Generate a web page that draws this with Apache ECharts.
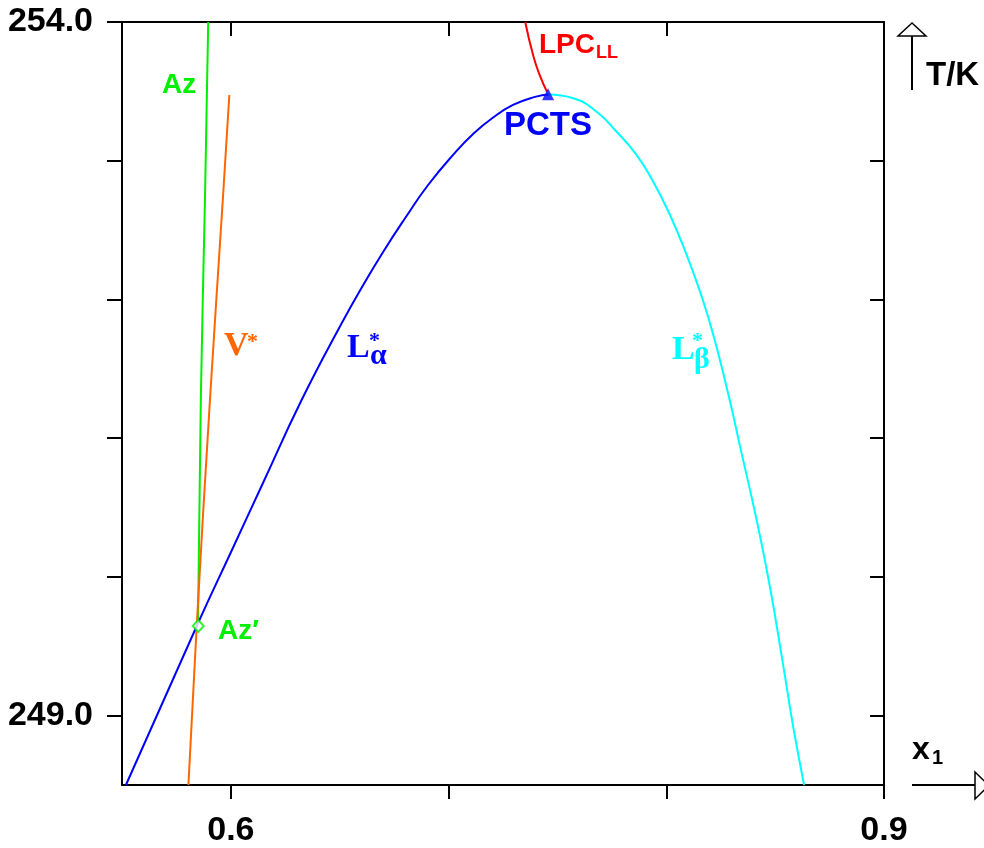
<!DOCTYPE html>
<html>
<head>
<meta charset="utf-8">
<script src="https://cdn.jsdelivr.net/npm/echarts@6/dist/echarts.min.js"></script>
<style>
html,body{margin:0;padding:0;background:#fff;}
#chart{width:984px;height:848px;}
</style>
</head>
<body>
<div id="chart"></div>
<script>
// ---- data (x1, T/K) ----
const xTickValues = [0.6, 0.7, 0.8, 0.9];
const xLabelValues = [0.6, 0.9];
const yTickValues = [249, 250, 251, 252, 253, 254];
const yLabelValues = [249, 254];

const lAlphaX = [0.5518, 0.5849, 0.6005, 0.6147, 0.6325, 0.6509, 0.6608, 0.6700, 0.6800, 0.6906, 0.7034, 0.7108, 0.7200, 0.7296, 0.7402, 0.7457];
const lAlphaT = [248.500, 249.666, 250.194, 250.675, 251.275, 251.828, 252.104, 252.344, 252.585, 252.825, 253.065, 253.186, 253.306, 253.402, 253.462, 253.477];

const lBetaX = [0.7457, 0.7573, 0.7680, 0.7772, 0.7864, 0.7940, 0.8017, 0.8094, 0.8155, 0.8216, 0.8293, 0.8339, 0.8415, 0.8476, 0.8538, 0.8583, 0.8633];
const lBetaT = [253.477, 253.450, 253.353, 253.209, 253.041, 252.849, 252.609, 252.320, 252.056, 251.744, 251.263, 250.939, 250.410, 249.929, 249.353, 248.920, 248.500];

const lpcX = [0.7352, 0.7390, 0.7421, 0.7452];
const lpcT = [254.000, 253.752, 253.608, 253.497];

const azX = [0.5896, 0.5881, 0.5862, 0.5849];
const azT = [254.000, 252.717, 251.275, 249.666];

const vX = [0.5993, 0.5963, 0.5904, 0.5843, 0.5805];
const vT = [253.474, 252.717, 251.275, 249.641, 248.500];

const pctsPoint = [0.7457, 253.48];
const azPrimePoint = [0.5850, 249.646];

function zip(xs, ys) { return xs.map((x, i) => [x, ys[i]]); }

const SANS = '"Liberation Sans", Arial, Helvetica, sans-serif';
const SERIF = '"Liberation Serif", "Times New Roman", serif';
const GREEN = '#00f000';

function lineSeries(xs, ys, color) {
  return {
    type: 'line', data: zip(xs, ys), showSymbol: false, smooth: 0.5,
    lineStyle: { color: color, width: 2 }, silent: true, z: 3
  };
}

function txt(text, x, y, color, font, align) {
  return {
    type: 'text', x: x, y: y, z: 100,
    style: { text: text, fill: color, font: font, textAlign: align || 'left', textVerticalAlign: 'middle' }
  };
}

const axisLineStyle = { color: '#000', width: 2 };

const option = {
  backgroundColor: '#fff',
  animation: false,
  grid: { left: 122, right: 100, top: 22, bottom: 63, containLabel: false, outerBoundsMode: 'none' },
  xAxis: [
    {
      type: 'value', position: 'bottom', min: 0.55, max: 0.9,
      axisLine: { show: true, onZero: false, lineStyle: axisLineStyle },
      axisTick: { show: true, inside: false, length: 14, customValues: xTickValues, lineStyle: axisLineStyle },
      axisLabel: { show: true, customValues: xLabelValues, formatter: v => Number(v).toFixed(1),
        color: '#000', fontSize: 34, fontWeight: 'bold', fontFamily: SANS, margin: 29 },
      splitLine: { show: false }
    },
    {
      type: 'value', position: 'top', min: 0.55, max: 0.9,
      axisLine: { show: true, onZero: false, lineStyle: axisLineStyle },
      axisTick: { show: true, inside: true, length: 14, customValues: [0.6, 0.7, 0.8], lineStyle: axisLineStyle },
      axisLabel: { show: false },
      splitLine: { show: false }
    }
  ],
  yAxis: [
    {
      type: 'value', position: 'left', min: 248.5, max: 254,
      axisLine: { show: true, onZero: false, lineStyle: axisLineStyle },
      axisTick: { show: true, inside: false, length: 15, customValues: yTickValues, lineStyle: axisLineStyle },
      axisLabel: { show: true, customValues: yLabelValues, formatter: v => Number(v).toFixed(1),
        color: '#000', fontSize: 34, fontWeight: 'bold', fontFamily: SANS, margin: 29 },
      splitLine: { show: false }
    },
    {
      type: 'value', position: 'right', min: 248.5, max: 254,
      axisLine: { show: true, onZero: false, lineStyle: axisLineStyle },
      axisTick: { show: true, inside: true, length: 14, customValues: yTickValues, lineStyle: axisLineStyle },
      axisLabel: { show: false },
      splitLine: { show: false }
    }
  ],
  series: [
    lineSeries(azX, azT, GREEN),
    lineSeries(vX, vT, '#ff6600'),
    lineSeries(lAlphaX, lAlphaT, '#0000ff'),
    lineSeries(lBetaX, lBetaT, '#00ffff'),
    lineSeries(lpcX, lpcT, '#ff0000'),
    {
      type: 'scatter', data: [pctsPoint], symbol: 'triangle', symbolSize: [12, 12],
      itemStyle: { color: '#0000ff' }, silent: true, z: 5
    },
    {
      type: 'scatter', data: [azPrimePoint], symbol: 'diamond', symbolSize: [11, 12],
      itemStyle: { color: '#ffffff', borderColor: GREEN, borderWidth: 2 }, silent: true, z: 5
    }
  ],
  graphic: [
    // axis arrows
    { type: 'polyline', z: 100, shape: { points: [[912, 90], [912, 36]] }, style: { stroke: '#000', lineWidth: 2, fill: null } },
    { type: 'polygon', z: 100, shape: { points: [[912, 23], [898, 36], [926, 36]] }, style: { stroke: '#000', lineWidth: 1.5, fill: '#fff' } },
    { type: 'polyline', z: 100, shape: { points: [[912, 785], [975, 785]] }, style: { stroke: '#000', lineWidth: 2, fill: null } },
    { type: 'polygon', z: 100, shape: { points: [[975, 772], [989, 785.5], [975, 799]] }, style: { stroke: '#000', lineWidth: 1.5, fill: '#fff' } },
    // axis titles
    txt('T/K', 926, 76, '#000', 'bold 33px ' + SANS),
    txt('x', 912, 750, '#000', 'bold 32px ' + SANS),
    txt('1', 932, 758, '#000', 'bold 20px ' + SANS),
    // curve labels
    txt('Az', 162, 85, GREEN, 'bold 28px ' + SANS),
    txt('Az\u2032', 218, 631, GREEN, 'bold 28px ' + SANS),
    txt('PCTS', 548, 126, '#0000ff', 'bold 33px ' + SANS, 'center'),
    txt('LPC', 539, 45, '#ff0000', 'bold 28px ' + SANS),
    txt('LL', 596, 53, '#ff0000', 'bold 18px ' + SANS),
    txt('V', 224, 346, '#ff6600', 'bold 34px ' + SERIF),
    txt('*', 247, 342, '#ff6600', 'bold 22px ' + SERIF),
    txt('L', 347, 348, '#0000ff', 'bold 34px ' + SERIF),
    txt('*', 369, 341, '#0000ff', 'bold 22px ' + SERIF),
    txt('\u03b1', 370, 356, '#0000ff', 'bold 30px ' + SERIF),
    txt('L', 672, 350, '#00ffff', 'bold 34px ' + SERIF),
    txt('*', 692, 341, '#00ffff', 'bold 22px ' + SERIF),
    txt('\u03b2', 694, 360, '#00ffff', 'bold 30px ' + SERIF)
  ]
};

const chart = echarts.init(document.getElementById('chart'), null, { renderer: 'canvas' });
chart.setOption(option);
</script>
</body>
</html>
